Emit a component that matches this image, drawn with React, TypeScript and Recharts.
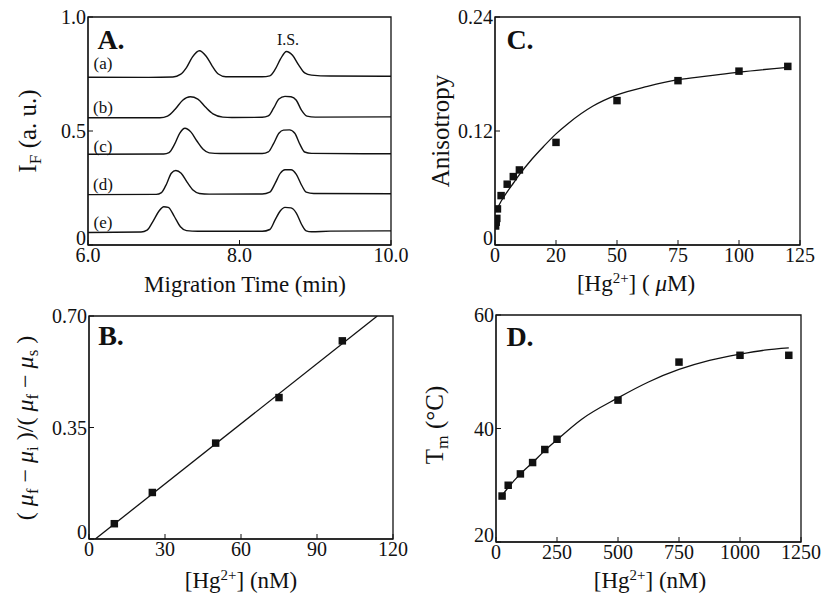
import React from "react";
import {
  ComposedChart,
  Line,
  Scatter,
  XAxis,
  YAxis,
  ZAxis,
  ReferenceArea,
} from "recharts";

const FONT = "'Liberation Serif', 'Times New Roman', serif";
const INK = "#111";

// ---- Panel A: electropherograms (min, a.u.)
const traceA = [
  [6.0, 0.736], [6.8, 0.735], [7.12, 0.737], [7.22, 0.748], [7.3, 0.778], [7.38, 0.825],
  [7.47, 0.852], [7.56, 0.828], [7.64, 0.785], [7.72, 0.75], [7.82, 0.738], [8.3, 0.738],
  [8.4, 0.742], [8.47, 0.77], [8.54, 0.815], [8.62, 0.849], [8.7, 0.832], [8.78, 0.79],
  [8.86, 0.755], [8.95, 0.745], [9.2, 0.741], [10.0, 0.74],
];
const traceB = [
  [6.0, 0.558], [6.95, 0.558], [7.05, 0.565], [7.15, 0.595], [7.25, 0.635], [7.35, 0.65],
  [7.45, 0.64], [7.55, 0.605], [7.65, 0.575], [7.78, 0.561], [7.9, 0.559], [8.3, 0.56],
  [8.38, 0.566], [8.45, 0.6], [8.52, 0.64], [8.6, 0.652], [8.68, 0.65], [8.75, 0.635],
  [8.82, 0.59], [8.89, 0.565], [9.0, 0.561], [10.0, 0.562],
];
const traceC = [
  [6.0, 0.398], [7.0, 0.399], [7.07, 0.405], [7.14, 0.44], [7.21, 0.49], [7.28, 0.512],
  [7.36, 0.495], [7.44, 0.455], [7.52, 0.42], [7.6, 0.404], [7.75, 0.401], [8.3, 0.401],
  [8.38, 0.408], [8.45, 0.445], [8.52, 0.49], [8.58, 0.504], [8.66, 0.505], [8.73, 0.49],
  [8.8, 0.44], [8.86, 0.408], [8.95, 0.402], [10.0, 0.4],
];
const traceD = [
  [6.0, 0.221], [6.9, 0.222], [6.97, 0.23], [7.04, 0.27], [7.1, 0.315], [7.16, 0.327],
  [7.23, 0.315], [7.31, 0.275], [7.39, 0.24], [7.47, 0.226], [7.6, 0.223], [8.3, 0.224],
  [8.4, 0.232], [8.47, 0.27], [8.54, 0.315], [8.6, 0.33], [8.68, 0.33], [8.75, 0.31],
  [8.82, 0.262], [8.88, 0.232], [8.98, 0.226], [10.0, 0.225],
];
const traceE = [
  [6.0, 0.055], [6.7, 0.057], [6.78, 0.065], [6.86, 0.105], [6.94, 0.15], [7.0, 0.168],
  [7.06, 0.165], [7.14, 0.125], [7.22, 0.08], [7.3, 0.063], [7.45, 0.06], [8.3, 0.06],
  [8.4, 0.068], [8.47, 0.11], [8.54, 0.15], [8.6, 0.165], [8.68, 0.163], [8.75, 0.14],
  [8.82, 0.09], [8.88, 0.062], [8.95, 0.058], [9.2, 0.061], [10.0, 0.062],
];
const tracesA = [traceA, traceB, traceC, traceD, traceE];
const traceNames = ["(a)", "(b)", "(c)", "(d)", "(e)"];

// ---- Panel B: mobility ratio vs Hg2+ (nM)
const hgB = [10, 25, 50, 75, 100];
const ratioB = [0.048, 0.146, 0.301, 0.444, 0.622];
const fitB = [[2.5, 0], [113.8, 0.7]];

// ---- Panel C: anisotropy vs Hg2+ (uM)
const hgC = [0.25, 0.5, 0.75, 1, 2.5, 5, 7.5, 10, 25, 50, 75, 100, 120];
const anisoC = [0.02, 0.024, 0.028, 0.038, 0.052, 0.064, 0.072, 0.079, 0.108, 0.152, 0.173, 0.183, 0.188];
const fitC = [
  [0.5, 0.036], [2.5, 0.046], [5, 0.056], [7.5, 0.065], [10, 0.074], [15, 0.09],
  [20, 0.104], [25, 0.117], [30, 0.128], [40, 0.146], [50, 0.158], [62.5, 0.167],
  [75, 0.174], [87.5, 0.178], [100, 0.182], [120, 0.187],
];

// ---- Panel D: Tm vs Hg2+ (nM)
const hgD = [25, 50, 100, 150, 200, 250, 500, 750, 1000, 1200];
const tmD = [28.1, 30.0, 32.0, 34.0, 36.3, 38.1, 45.0, 51.7, 52.9, 52.9];
const fitD = [
  [25, 28.2], [50, 29.6], [100, 32.0], [150, 34.0], [200, 36.1], [250, 38.0],
  [350, 41.6], [500, 45.4], [625, 48.2], [750, 50.4], [875, 52.0], [1000, 53.1],
  [1100, 53.8], [1200, 54.2],
];

// tick values and their printed labels
const xTicksA = [6, 8, 10];
const xLabelsA = ["6.0", "8.0", "10.0"];
const yTicksA = [0, 0.5, 1];
const yLabelsA = ["0", "0.5", "1.0"];
const xTicksB = [0, 30, 60, 90, 120];
const xLabelsB = ["0", "30", "60", "90", "120"];
const yTicksB = [0, 0.35, 0.7];
const yLabelsB = ["0", "0.35", "0.70"];
const xTicksC = [0, 25, 50, 75, 100, 125];
const xLabelsC = ["0", "20", "50", "75", "100", "125"];
const yTicksC = [0, 0.12, 0.24];
const yLabelsC = ["0", "0.12", "0.24"];
const xTicksD = [0, 250, 500, 750, 1000, 1250];
const xLabelsD = ["0", "250", "500", "750", "1000", "1250"];
const yTicksD = [20, 40, 60];
const yLabelsD = ["20", "40", "60"];

const pairs = (p: number[][]) => p.map(([x, y]) => ({ x, y }));
const zip = (xs: number[], ys: number[]) => xs.map((x, i) => ({ x, y: ys[i] }));

const PADL = 70;
const PADT = 10;
const PADR = 30;
const XH = 45;

type FrameProps = {
  left: number;
  top: number;
  w: number;
  h: number;
  xDomain: [number, number];
  yDomain: [number, number];
  xTicks: number[];
  xLabels: string[];
  yTicks: number[];
  yLabels: string[];
  children: React.ReactNode;
};

function Frame(p: FrameProps) {
  const tickStyle = { fontFamily: FONT, fontSize: 20, fill: INK };
  // y tick labels: the bottom one sits a little higher, as in the figure
  const yTick = (t: any) => {
    const v = t.payload.value;
    const lift = v === p.yDomain[0] ? -7 : 0;
    return (
      <text
        x={t.x}
        y={t.y + lift}
        dy="0.355em"
        textAnchor="end"
        fontFamily={FONT}
        fontSize={20}
        fill={INK}
      >
        {p.yLabels[p.yTicks.indexOf(v)] ?? String(v)}
      </text>
    );
  };
  return (
    <div style={{ position: "absolute", left: p.left - PADL, top: p.top - PADT }}>
      <ComposedChart
        width={p.w + PADL + PADR}
        height={p.h + PADT + XH}
        margin={{ top: PADT, right: PADR, bottom: 0, left: 0 }}
      >
        <XAxis
          type="number"
          dataKey="x"
          domain={p.xDomain}
          ticks={p.xTicks}
          interval={0}
          allowDataOverflow
          height={XH}
          stroke={INK}
          tickSize={-5}
          tickMargin={8}
          tick={tickStyle}
          tickFormatter={(v: number) => p.xLabels[p.xTicks.indexOf(v)] ?? String(v)}
        />
        <YAxis
          type="number"
          dataKey="y"
          domain={p.yDomain}
          ticks={p.yTicks}
          interval={0}
          allowDataOverflow
          width={PADL}
          stroke={INK}
          tickSize={-5}
          tickMargin={7}
          tick={yTick}
        />
        <ZAxis range={[56, 56]} />
        <ReferenceArea
          x1={p.xDomain[0]}
          x2={p.xDomain[1]}
          y1={p.yDomain[0]}
          y2={p.yDomain[1]}
          fill="none"
          stroke={INK}
          strokeWidth={1.3}
        />
        {p.children}
      </ComposedChart>
    </div>
  );
}

function Txt({
  x,
  y,
  size = 22,
  bold = false,
  rotate = false,
  children,
}: {
  x: number;
  y: number;
  size?: number;
  bold?: boolean;
  rotate?: boolean;
  children: React.ReactNode;
}) {
  return (
    <div
      style={{
        position: "absolute",
        left: x,
        top: y,
        transform: `translate(-50%, -50%)${rotate ? " rotate(-90deg)" : ""}`,
        fontFamily: FONT,
        fontSize: size,
        fontWeight: bold ? 700 : 400,
        color: INK,
        whiteSpace: "nowrap",
        lineHeight: 1,
      }}
    >
      {children}
    </div>
  );
}

const sub = { fontSize: "0.7em", verticalAlign: "-0.3em" } as const;
const sup = { fontSize: "0.65em", verticalAlign: "0.5em" } as const;
const mu = <span style={{ fontStyle: "italic" }}>μ</span>;

export default function App() {
  const fit = (d: number[][], key: string) => (
    <Line
      key={key}
      data={pairs(d)}
      dataKey="y"
      type="monotone"
      dot={false}
      stroke={INK}
      strokeWidth={1.3}
      isAnimationActive={false}
    />
  );
  const pts = (xs: number[], ys: number[]) => (
    <Scatter
      data={zip(xs, ys)}
      dataKey="y"
      shape="square"
      fill={INK}
      isAnimationActive={false}
    />
  );

  return (
    <div style={{ position: "absolute", left: 0, top: 0, width: 828, height: 597, background: "#fff", overflow: "hidden" }}>
      {/* A */}
      <Frame left={88} top={17} w={303} h={228} xDomain={[6, 10]} yDomain={[0, 1]}
        xTicks={xTicksA} xLabels={xLabelsA} yTicks={yTicksA} yLabels={yLabelsA}>
        {tracesA.map((t, i) => (
          <Line
            key={traceNames[i]}
            data={pairs(t)}
            dataKey="y"
            type="monotone"
            dot={false}
            stroke={INK}
            strokeWidth={1.4}
            isAnimationActive={false}
          />
        ))}
      </Frame>
      {/* B */}
      <Frame left={89} top={316} w={304} h={223} xDomain={[0, 120]} yDomain={[0, 0.7]}
        xTicks={xTicksB} xLabels={xLabelsB} yTicks={yTicksB} yLabels={yLabelsB}>
        {fit(fitB, "fitB")}
        {pts(hgB, ratioB)}
      </Frame>
      {/* C */}
      <Frame left={495} top={17} w={305} h={228} xDomain={[0, 125]} yDomain={[0, 0.24]}
        xTicks={xTicksC} xLabels={xLabelsC} yTicks={yTicksC} yLabels={yLabelsC}>
        {fit(fitC, "fitC")}
        {pts(hgC, anisoC)}
      </Frame>
      {/* D */}
      <Frame left={496} top={315} w={305} h={227} xDomain={[0, 1250]} yDomain={[20, 60]}
        xTicks={xTicksD} xLabels={xLabelsD} yTicks={yTicksD} yLabels={yLabelsD}>
        {fit(fitD, "fitD")}
        {pts(hgD, tmD)}
      </Frame>

      {/* panel letters */}
      <Txt x={111} y={40} size={28} bold>A.</Txt>
      <Txt x={520} y={40} size={28} bold>C.</Txt>
      <Txt x={111} y={336} size={28} bold>B.</Txt>
      <Txt x={520} y={337} size={28} bold>D.</Txt>

      {/* trace labels in A */}
      {traceNames.map((n, i) => (
        <Txt key={n} x={103} y={[63, 107, 146, 184, 222][i]} size={17}>{n}</Txt>
      ))}
      <Txt x={288} y={40} size={16}>I.S.</Txt>

      {/* axis titles */}
      <Txt x={30} y={131} size={25} rotate>
        I<span style={sub}>F</span> (a. u.)
      </Txt>
      <Txt x={245} y={284} size={23}>Migration Time (min)</Txt>

      <Txt x={27} y={428} size={24} rotate>
        ( {mu}<span style={sub}>f</span> − {mu}<span style={sub}>i</span> )/( {mu}
        <span style={sub}>f</span> − {mu}<span style={sub}>s</span> )
      </Txt>
      <Txt x={241} y={580} size={23}>
        [Hg<span style={sup}>2+</span>] (nM)
      </Txt>

      <Txt x={440} y={131} size={25} rotate>Anisotropy</Txt>
      <Txt x={636} y={283} size={23}>
        [Hg<span style={sup}>2+</span>] ( {mu}M)
      </Txt>

      <Txt x={437} y={425} size={25} rotate>
        T<span style={sub}>m</span> (°C)
      </Txt>
      <Txt x={650} y={580} size={23}>
        [Hg<span style={sup}>2+</span>] (nM)
      </Txt>
    </div>
  );
}
